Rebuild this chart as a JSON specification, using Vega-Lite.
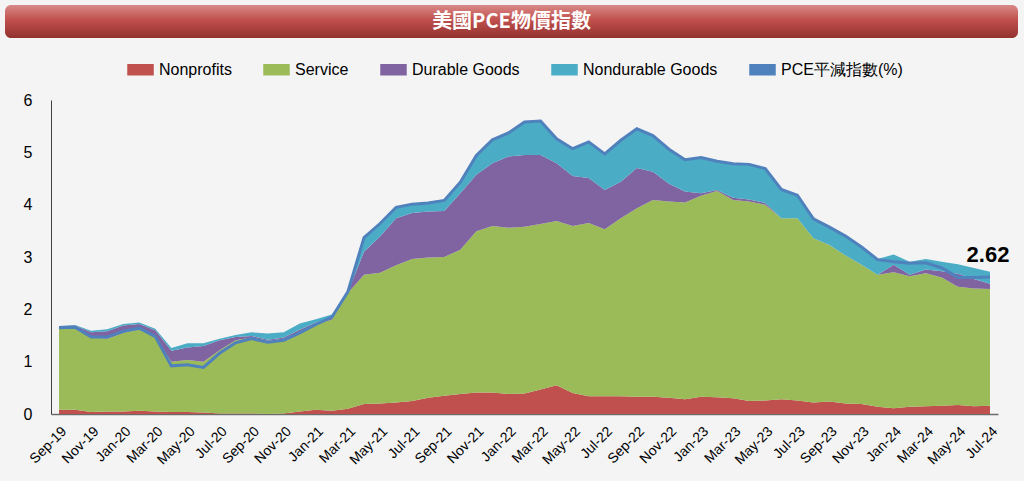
{
  "$schema": "https://vega.github.io/schema/vega-lite/v6.json",
  "background": "#f4f4f5",
  "padding": {"left": 5, "top": 5, "right": 6, "bottom": 14},
  "config": {"view": {"stroke": null}, "font": "Liberation Sans"},
  "spacing": 18,
  "resolve": {"scale": {"color": "independent"}, "legend": {"color": "independent"}},
  "vconcat": [
    {
      "width": 1013,
      "height": 33,
      "data": {"values": [{"title": "美國PCE物價指數"}]},
      "layer": [
        {
          "mark": {
            "type": "rect",
            "cornerRadius": 6,
            "fill": {
              "gradient": "linear",
              "x1": 0, "y1": 0, "x2": 0, "y2": 1,
              "stops": [
                {"offset": 0, "color": "#d98a88"},
                {"offset": 0.45, "color": "#c0504d"},
                {"offset": 1, "color": "#93312f"}
              ]
            }
          },
          "encoding": {}
        },
        {
          "mark": {"type": "text", "color": "white", "fontSize": 20, "fontWeight": "bold", "font": "Noto Sans CJK TC", "baseline": "middle", "align": "center"},
          "encoding": {"text": {"field": "title"}}
        }
      ]
    },
    {
      "width": 993,
      "height": 314,
      "data": {
        "values": [
          {"month": "Sep-19", "Nonprofits": 0.08, "Service": 1.55, "Durable Goods": 0.05, "Nondurable Goods": 0.00, "PCE平減指數(%)": 1.65},
          {"month": "Oct-19", "Nonprofits": 0.08, "Service": 1.55, "Durable Goods": 0.06, "Nondurable Goods": 0.01, "PCE平減指數(%)": 1.66},
          {"month": "Nov-19", "Nonprofits": 0.04, "Service": 1.42, "Durable Goods": 0.10, "Nondurable Goods": 0.03, "PCE平減指數(%)": 1.47},
          {"month": "Dec-19", "Nonprofits": 0.05, "Service": 1.39, "Durable Goods": 0.14, "Nondurable Goods": 0.04, "PCE平減指數(%)": 1.47},
          {"month": "Jan-20", "Nonprofits": 0.05, "Service": 1.50, "Durable Goods": 0.14, "Nondurable Goods": 0.03, "PCE平減指數(%)": 1.58},
          {"month": "Feb-20", "Nonprofits": 0.06, "Service": 1.56, "Durable Goods": 0.10, "Nondurable Goods": 0.03, "PCE平減指數(%)": 1.64},
          {"month": "Mar-20", "Nonprofits": 0.05, "Service": 1.41, "Durable Goods": 0.14, "Nondurable Goods": 0.03, "PCE平減指數(%)": 1.48},
          {"month": "Apr-20", "Nonprofits": 0.04, "Service": 0.96, "Durable Goods": 0.21, "Nondurable Goods": 0.05, "PCE平減指數(%)": 0.92},
          {"month": "May-20", "Nonprofits": 0.04, "Service": 0.99, "Durable Goods": 0.24, "Nondurable Goods": 0.08, "PCE平減指數(%)": 0.94},
          {"month": "Jun-20", "Nonprofits": 0.03, "Service": 0.97, "Durable Goods": 0.30, "Nondurable Goods": 0.05, "PCE平減指數(%)": 0.89},
          {"month": "Jul-20", "Nonprofits": 0.01, "Service": 1.21, "Durable Goods": 0.19, "Nondurable Goods": 0.03, "PCE平減指數(%)": 1.16},
          {"month": "Aug-20", "Nonprofits": 0.01, "Service": 1.40, "Durable Goods": 0.06, "Nondurable Goods": 0.04, "PCE平減指數(%)": 1.36},
          {"month": "Sep-20", "Nonprofits": 0.01, "Service": 1.45, "Durable Goods": 0.03, "Nondurable Goods": 0.07, "PCE平減指數(%)": 1.44},
          {"month": "Oct-20", "Nonprofits": 0.00, "Service": 1.40, "Durable Goods": 0.02, "Nondurable Goods": 0.12, "PCE平減指數(%)": 1.37},
          {"month": "Nov-20", "Nonprofits": 0.01, "Service": 1.43, "Durable Goods": 0.02, "Nondurable Goods": 0.10, "PCE平減指數(%)": 1.41},
          {"month": "Dec-20", "Nonprofits": 0.05, "Service": 1.52, "Durable Goods": 0.04, "Nondurable Goods": 0.12, "PCE平減指數(%)": 1.55},
          {"month": "Jan-21", "Nonprofits": 0.08, "Service": 1.64, "Durable Goods": 0.03, "Nondurable Goods": 0.06, "PCE平減指數(%)": 1.71},
          {"month": "Feb-21", "Nonprofits": 0.06, "Service": 1.74, "Durable Goods": 0.02, "Nondurable Goods": 0.08, "PCE平減指數(%)": 1.85},
          {"month": "Mar-21", "Nonprofits": 0.10, "Service": 2.21, "Durable Goods": 0.02, "Nondurable Goods": 0.02, "PCE平減指數(%)": 2.34},
          {"month": "Apr-21", "Nonprofits": 0.19, "Service": 2.47, "Durable Goods": 0.44, "Nondurable Goods": 0.29, "PCE平減指數(%)": 3.37},
          {"month": "May-21", "Nonprofits": 0.20, "Service": 2.50, "Durable Goods": 0.69, "Nondurable Goods": 0.26, "PCE平減指數(%)": 3.64},
          {"month": "Jun-21", "Nonprofits": 0.22, "Service": 2.62, "Durable Goods": 0.90, "Nondurable Goods": 0.22, "PCE平減指數(%)": 3.95},
          {"month": "Jul-21", "Nonprofits": 0.25, "Service": 2.71, "Durable Goods": 0.88, "Nondurable Goods": 0.18, "PCE平減指數(%)": 4.01},
          {"month": "Aug-21", "Nonprofits": 0.31, "Service": 2.68, "Durable Goods": 0.88, "Nondurable Goods": 0.17, "PCE平減指數(%)": 4.03},
          {"month": "Sep-21", "Nonprofits": 0.35, "Service": 2.65, "Durable Goods": 0.88, "Nondurable Goods": 0.21, "PCE平減指數(%)": 4.08},
          {"month": "Oct-21", "Nonprofits": 0.38, "Service": 2.76, "Durable Goods": 1.08, "Nondurable Goods": 0.22, "PCE平減指數(%)": 4.43},
          {"month": "Nov-21", "Nonprofits": 0.41, "Service": 3.08, "Durable Goods": 1.08, "Nondurable Goods": 0.38, "PCE平減指數(%)": 4.94},
          {"month": "Dec-21", "Nonprofits": 0.41, "Service": 3.18, "Durable Goods": 1.20, "Nondurable Goods": 0.46, "PCE平減指數(%)": 5.24},
          {"month": "Jan-22", "Nonprofits": 0.38, "Service": 3.18, "Durable Goods": 1.36, "Nondurable Goods": 0.46, "PCE平減指數(%)": 5.37},
          {"month": "Feb-22", "Nonprofits": 0.39, "Service": 3.19, "Durable Goods": 1.37, "Nondurable Goods": 0.64, "PCE平減指數(%)": 5.58},
          {"month": "Mar-22", "Nonprofits": 0.47, "Service": 3.16, "Durable Goods": 1.32, "Nondurable Goods": 0.66, "PCE平減指數(%)": 5.60},
          {"month": "Apr-22", "Nonprofits": 0.55, "Service": 3.14, "Durable Goods": 1.10, "Nondurable Goods": 0.48, "PCE平減指數(%)": 5.26},
          {"month": "May-22", "Nonprofits": 0.40, "Service": 3.19, "Durable Goods": 0.96, "Nondurable Goods": 0.53, "PCE平減指數(%)": 5.07},
          {"month": "Jun-22", "Nonprofits": 0.34, "Service": 3.31, "Durable Goods": 0.86, "Nondurable Goods": 0.70, "PCE平減指數(%)": 5.20},
          {"month": "Jul-22", "Nonprofits": 0.34, "Service": 3.19, "Durable Goods": 0.75, "Nondurable Goods": 0.70, "PCE平減指數(%)": 4.97},
          {"month": "Aug-22", "Nonprofits": 0.34, "Service": 3.40, "Durable Goods": 0.70, "Nondurable Goods": 0.80, "PCE平減指數(%)": 5.23},
          {"month": "Sep-22", "Nonprofits": 0.33, "Service": 3.60, "Durable Goods": 0.77, "Nondurable Goods": 0.76, "PCE平減指數(%)": 5.45},
          {"month": "Oct-22", "Nonprofits": 0.33, "Service": 3.76, "Durable Goods": 0.54, "Nondurable Goods": 0.70, "PCE平減指數(%)": 5.32},
          {"month": "Nov-22", "Nonprofits": 0.31, "Service": 3.75, "Durable Goods": 0.34, "Nondurable Goods": 0.67, "PCE平減指數(%)": 5.06},
          {"month": "Dec-22", "Nonprofits": 0.28, "Service": 3.76, "Durable Goods": 0.21, "Nondurable Goods": 0.62, "PCE平減指數(%)": 4.86},
          {"month": "Jan-23", "Nonprofits": 0.33, "Service": 3.84, "Durable Goods": 0.05, "Nondurable Goods": 0.69, "PCE平減指數(%)": 4.90},
          {"month": "Feb-23", "Nonprofits": 0.32, "Service": 3.94, "Durable Goods": 0.02, "Nondurable Goods": 0.56, "PCE平減指數(%)": 4.83},
          {"month": "Mar-23", "Nonprofits": 0.30, "Service": 3.79, "Durable Goods": 0.04, "Nondurable Goods": 0.66, "PCE平減指數(%)": 4.78},
          {"month": "Apr-23", "Nonprofits": 0.25, "Service": 3.81, "Durable Goods": 0.04, "Nondurable Goods": 0.68, "PCE平減指數(%)": 4.77},
          {"month": "May-23", "Nonprofits": 0.26, "Service": 3.74, "Durable Goods": 0.03, "Nondurable Goods": 0.67, "PCE平減指數(%)": 4.69},
          {"month": "Jun-23", "Nonprofits": 0.28, "Service": 3.46, "Durable Goods": 0.00, "Nondurable Goods": 0.56, "PCE平減指數(%)": 4.29},
          {"month": "Jul-23", "Nonprofits": 0.26, "Service": 3.48, "Durable Goods": 0.00, "Nondurable Goods": 0.45, "PCE平減指數(%)": 4.18},
          {"month": "Aug-23", "Nonprofits": 0.22, "Service": 3.14, "Durable Goods": 0.00, "Nondurable Goods": 0.38, "PCE平減指數(%)": 3.73},
          {"month": "Sep-23", "Nonprofits": 0.24, "Service": 2.99, "Durable Goods": 0.00, "Nondurable Goods": 0.35, "PCE平減指數(%)": 3.57},
          {"month": "Oct-23", "Nonprofits": 0.20, "Service": 2.83, "Durable Goods": 0.00, "Nondurable Goods": 0.38, "PCE平減指數(%)": 3.40},
          {"month": "Nov-23", "Nonprofits": 0.19, "Service": 2.66, "Durable Goods": 0.00, "Nondurable Goods": 0.35, "PCE平減指數(%)": 3.19},
          {"month": "Dec-23", "Nonprofits": 0.14, "Service": 2.52, "Durable Goods": 0.00, "Nondurable Goods": 0.30, "PCE平減指數(%)": 2.95},
          {"month": "Jan-24", "Nonprofits": 0.11, "Service": 2.60, "Durable Goods": 0.14, "Nondurable Goods": 0.20, "PCE平減指數(%)": 2.91},
          {"month": "Feb-24", "Nonprofits": 0.14, "Service": 2.49, "Durable Goods": 0.03, "Nondurable Goods": 0.25, "PCE平減指數(%)": 2.88},
          {"month": "Mar-24", "Nonprofits": 0.15, "Service": 2.54, "Durable Goods": 0.07, "Nondurable Goods": 0.20, "PCE平減指數(%)": 2.89},
          {"month": "Apr-24", "Nonprofits": 0.16, "Service": 2.45, "Durable Goods": 0.12, "Nondurable Goods": 0.18, "PCE平減指數(%)": 2.79},
          {"month": "May-24", "Nonprofits": 0.17, "Service": 2.26, "Durable Goods": 0.25, "Nondurable Goods": 0.18, "PCE平減指數(%)": 2.61},
          {"month": "Jun-24", "Nonprofits": 0.15, "Service": 2.25, "Durable Goods": 0.18, "Nondurable Goods": 0.21, "PCE平減指數(%)": 2.61},
          {"month": "Jul-24", "Nonprofits": 0.16, "Service": 2.23, "Durable Goods": 0.10, "Nondurable Goods": 0.23, "PCE平減指數(%)": 2.62}
        ]
      },
      "transform": [
        {"fold": ["Nonprofits", "Service", "Durable Goods", "Nondurable Goods", "PCE平減指數(%)"], "as": ["series", "value"]},
        {"window": [{"op": "row_number", "as": "k"}], "groupby": ["month"]}
      ],
      "layer": [
        {
          "transform": [{"filter": "datum.series !== 'PCE平減指數(%)'"}],
          "mark": {"type": "area", "opacity": 1},
          "encoding": {
            "x": {
              "field": "month", "type": "ordinal", "sort": null,
              "scale": {"range": [46, 993], "padding": 0.5},
              "axis": {
                "title": null,
                "values": ["Sep-19","Nov-19","Jan-20","Mar-20","May-20","Jul-20","Sep-20","Nov-20","Jan-21","Mar-21","May-21","Jul-21","Sep-21","Nov-21","Jan-22","Mar-22","May-22","Jul-22","Sep-22","Nov-22","Jan-23","Mar-23","May-23","Jul-23","Sep-23","Nov-23","Jan-24","Mar-24","May-24","Jul-24"],
                "labelAngle": -45, "labelFontSize": 14, "labelColor": "#000000",
                "labelPadding": 10, "ticks": false, "grid": false,
                "domainColor": "#6b6b6b", "domainWidth": 1.5
              }
            },
            "y": {
              "field": "value", "type": "quantitative", "stack": "zero",
              "scale": {"domain": [0, 6], "nice": false},
              "axis": {
                "title": null, "values": [0, 1, 2, 3, 4, 5, 6],
                "labelFontSize": 16, "labelColor": "#000000", "labelPadding": 19,
                "ticks": false, "grid": false, "domainColor": "#404040", "domainWidth": 1,
                "offset": -46
              }
            },
            "color": {
              "field": "series", "type": "nominal",
              "scale": {
                "domain": ["Nonprofits", "Service", "Durable Goods", "Nondurable Goods", "PCE平減指數(%)"],
                "range": ["#c0504d", "#9bbb59", "#8064a2", "#4bacc6", "#4f81bd"]
              },
              "legend": {
                "orient": "none", "legendX": 122, "legendY": -44,
                "direction": "horizontal", "title": null, "padding": 0,
                "labelFontSize": 16, "labelColor": "#000000", "labelFont": "Liberation Sans",
                "symbolSize": 625, "labelOffset": 5, "columnPadding": 29,
                "symbolType": "M-1,-0.4H1V0.4H-1Z",
                "encode": {
                  "symbols": {
                    "update": {
                      "shape": {"signal": "datum.value === 'PCE平減指數(%)' ? 'stroke' : 'M-1,-0.4H1V0.4H-1Z'"},
                      "stroke": {"signal": "datum.value === 'PCE平減指數(%)' ? '#4f81bd' : 'transparent'"},
                      "strokeWidth": {"value": 3},
                      "opacity": {"value": 1}
                    }
                  }
                }
              }
            },
            "order": {"field": "k", "type": "quantitative"}
          }
        },
        {
          "transform": [{"filter": "datum.series === 'PCE平減指數(%)'"}],
          "mark": {"type": "line", "strokeWidth": 3},
          "encoding": {
            "x": {"field": "month", "type": "ordinal", "sort": null},
            "y": {"field": "value", "type": "quantitative"},
            "color": {"field": "series", "type": "nominal"}
          }
        },
        {
          "transform": [{"filter": "datum.series === 'PCE平減指數(%)' && datum.month === 'Jul-24'"}],
          "mark": {"type": "text", "fontSize": 22, "fontWeight": "bold", "color": "#000000", "align": "center", "baseline": "alphabetic", "dy": -15, "dx": -2, "font": "Liberation Sans"},
          "encoding": {
            "x": {"field": "month", "type": "ordinal", "sort": null},
            "y": {"field": "value", "type": "quantitative"},
            "text": {"field": "value", "type": "quantitative", "format": ".2f"}
          }
        }
      ]
    }
  ]
}
